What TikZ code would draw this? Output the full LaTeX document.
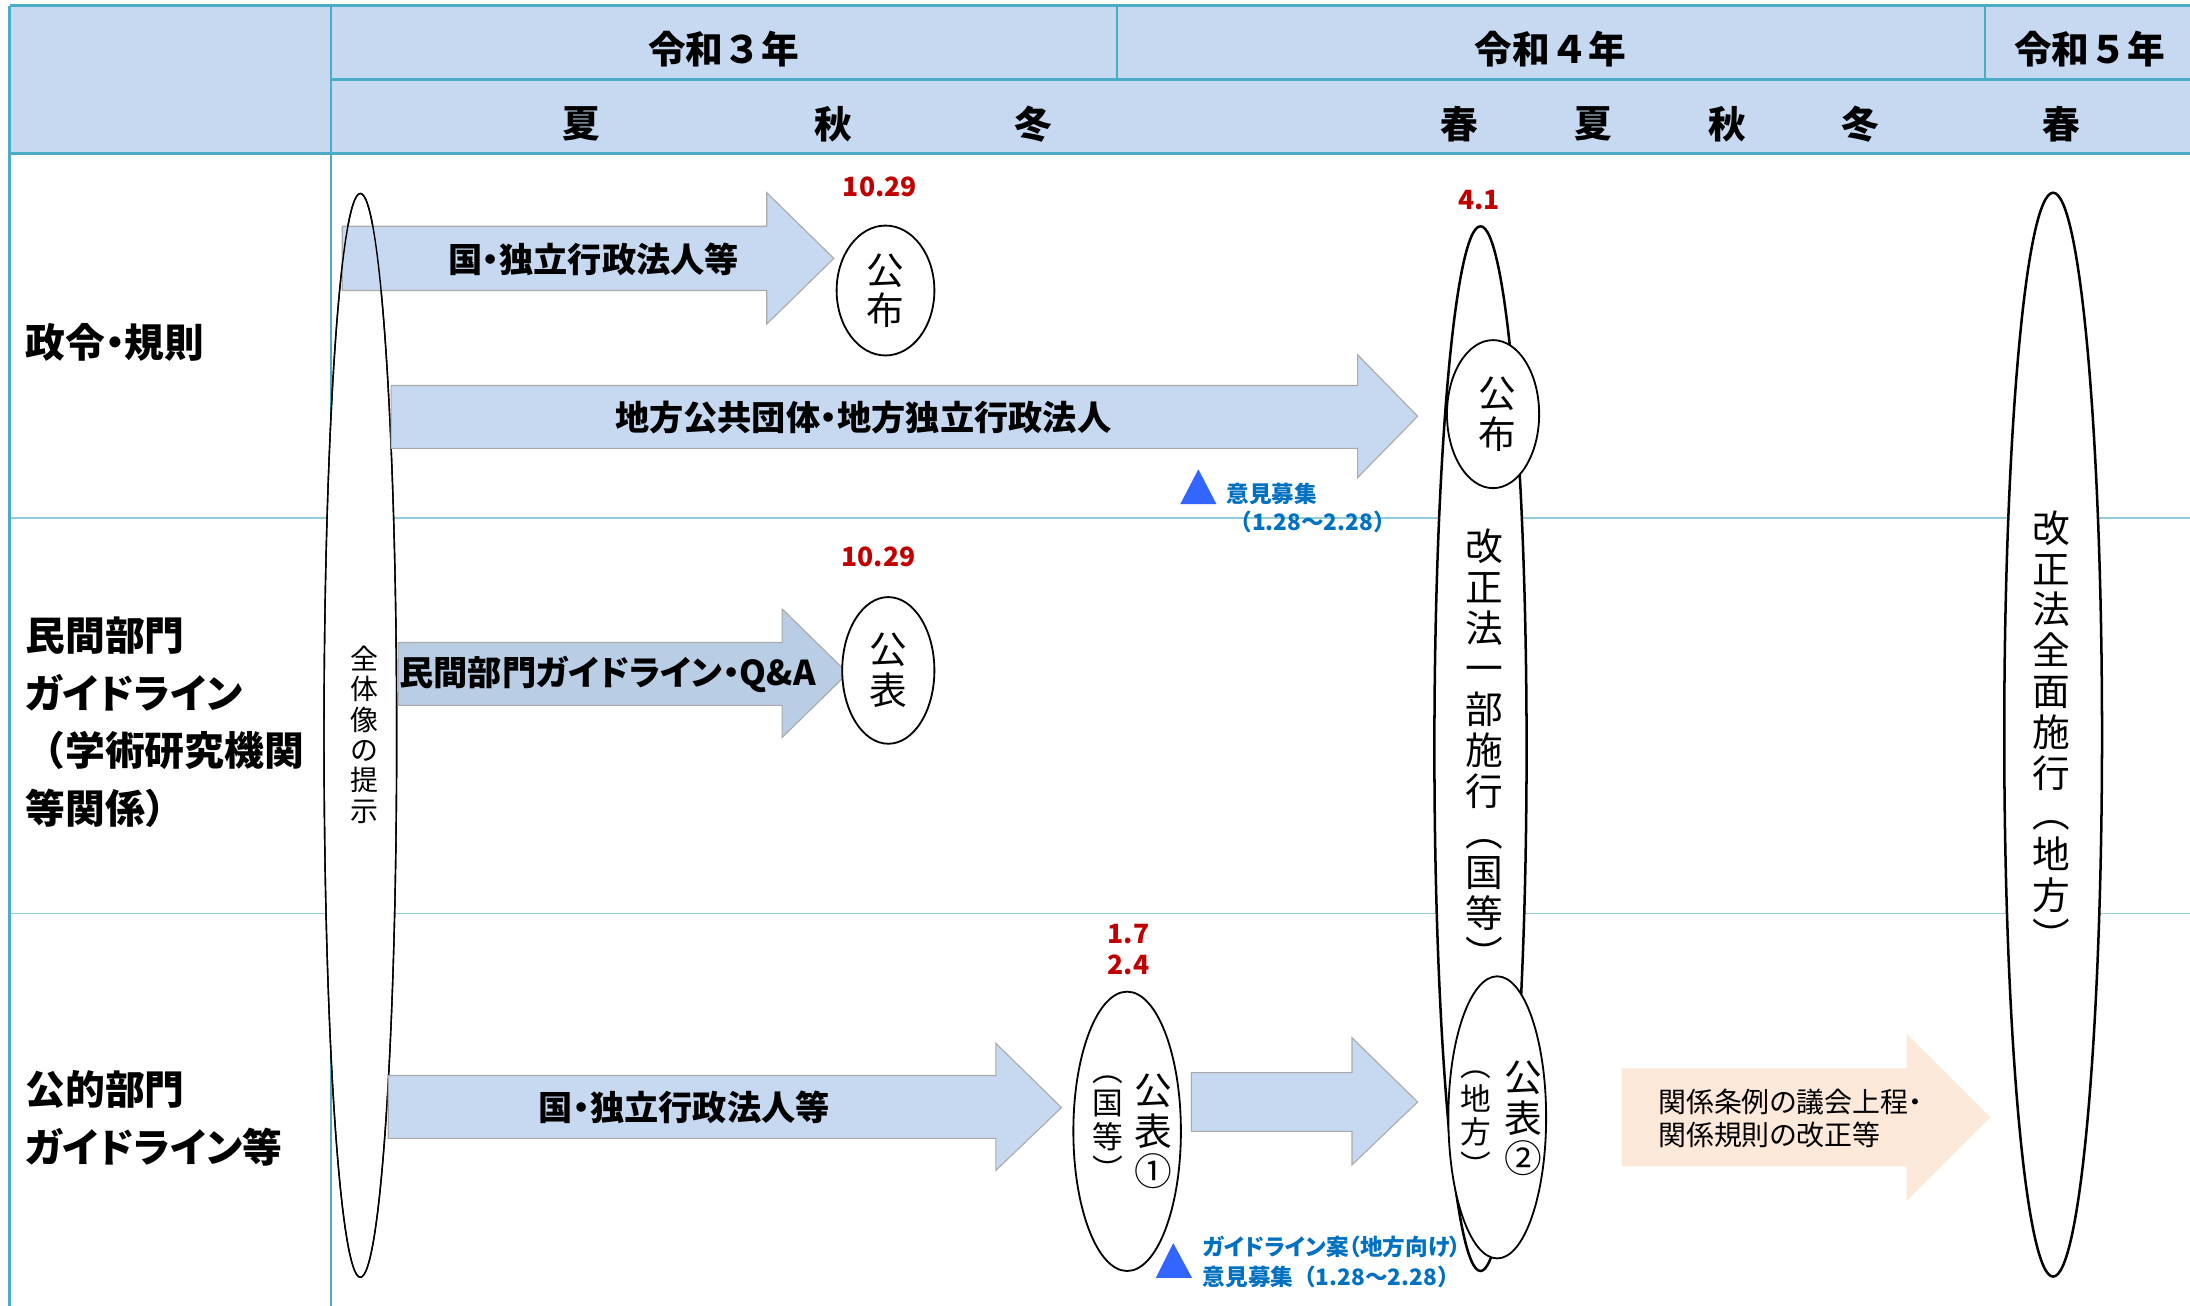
\documentclass[tikz,border=0pt]{standalone}
\usepackage{fontspec}
\setmainfont{Noto Sans CJK JP}
\newfontfamily\pfont{Noto Sans CJK JP}[RawFeature=+palt]
\usetikzlibrary{shapes.geometric}
\definecolor{hdr}{RGB}{198,217,240}
\definecolor{bcol}{RGB}{75,172,198}
\definecolor{lcol}{RGB}{146,205,222}
\definecolor{afill}{RGB}{198,217,241}
\definecolor{afilltwo}{RGB}{185,205,229}
\definecolor{adraw}{RGB}{170,170,170}
\definecolor{peach}{RGB}{253,233,217}
\definecolor{dred}{RGB}{192,0,0}
\definecolor{tblue}{RGB}{0,112,192}
\definecolor{triblue}{RGB}{51,102,255}
\begin{document}
\begin{tikzpicture}[x=1pt,y=-1pt,
  hdrtext/.style={font=\bfseries\fontsize{27}{30}\selectfont, inner sep=0pt},
  rowlabel/.style={font=\pfont\bfseries\fontsize{28.5}{41.3}\selectfont, align=left, anchor=west, inner sep=0pt},
  arrowshape/.style={fill=afill, draw=adraw, line width=0.8pt},
  arrowtext/.style={font=\pfont\bfseries\fontsize{24.5}{26}\selectfont, inner sep=0pt},
  ell/.style={ellipse, draw=black, fill=white, line width=1.3pt, inner sep=0pt},
  vt/.style={align=center, inner sep=0pt, font=\fontsize{27}{29}\selectfont},
  vts/.style={align=center, inner sep=0pt, font=\fontsize{22}{24}\selectfont},
  datelbl/.style={text=dred, font=\bfseries\fontsize{19}{22}\selectfont, inner sep=0pt},
  note/.style={text=tblue, font=\pfont\bfseries\fontsize{16.2}{20}\selectfont, inner sep=0pt, anchor=west},
  tri/.style={fill=triblue},
]
\useasboundingbox (0,0) rectangle (1568,935);
% header
\fill[hdr] (7,4) rectangle (1568,110);
\draw[lcol, line width=1.3pt] (7,371) -- (1568,371);
\draw[lcol, line width=1.3pt] (7,654) -- (1568,654);
\draw[bcol, line width=2pt] (7,4) -- (1568,4);
\draw[bcol, line width=1.6pt] (237,57) -- (1568,57);
\draw[bcol, line width=2pt] (7,110) -- (1568,110);
\draw[bcol, line width=2pt] (7,4) -- (7,935);
\draw[bcol, line width=1.6pt] (237,4) -- (237,935);
\draw[bcol, line width=1.6pt] (800,4) -- (800,57);
\draw[bcol, line width=1.6pt] (1421,4) -- (1421,57);

\node[hdrtext] (y3) at (518,35) {令和３年};
\node[hdrtext] (y4) at (1110,35) {令和４年};
\node[hdrtext] (y5) at (1496,35) {令和５年};
\node[hdrtext] (s1) at (416,89) {夏};
\node[hdrtext] (s2) at (597,89) {秋};
\node[hdrtext] (s3) at (740,89) {冬};
\node[hdrtext] (s4) at (1045,89) {春};
\node[hdrtext] (s5) at (1141,89) {夏};
\node[hdrtext] (s6) at (1237,89) {秋};
\node[hdrtext] (s7) at (1332,89) {冬};
\node[hdrtext] (s8) at (1476,89) {春};

% row labels
\node[rowlabel] (r1) at (18,245) {政令・規則};
\node[rowlabel] (r2) at (18,517) {民間部門\\ガイドライン\\{\rmfamily（}学術研究機関\\等関係{\rmfamily）}};
\node[rowlabel] (r3) at (18,800.5) {公的部門\\ガイドライン等};

% overall ellipse (fill)
\node[ell, line width=1pt, minimum width=52, minimum height=776] (whole) at (258,526.5) {};

% arrows
\path[arrowshape] (245,162) -- (549,162) -- (549,138) -- (597,185) -- (549,232) -- (549,208) -- (245,208) -- cycle;
\draw[line width=1pt] (whole.center) ellipse [x radius=26, y radius=388];
\node[arrowtext] (a1) at (425,186) {国・独立行政法人等};

\path[arrowshape] (280,276) -- (972,276) -- (972,254) -- (1015,298) -- (972,342) -- (972,321) -- (280,321) -- cycle;
\node[arrowtext] (a2) at (618,299) {地方公共団体・地方独立行政法人};

\path[arrowshape, fill=afilltwo] (285,460) -- (560,460) -- (560,436) -- (607,482) -- (560,528) -- (560,505) -- (285,505) -- cycle;
\node[arrowtext] (a3) at (435,483) {民間部門ガイドライン・Q\&A};

\path[arrowshape] (278,770) -- (713,770) -- (713,747) -- (760,793) -- (713,838) -- (713,815) -- (278,815) -- cycle;
\node[arrowtext] (a4) at (490,793) {国・独立行政法人等};

\path[arrowshape] (853,768) -- (968,768) -- (968,743) -- (1015,789) -- (968,834) -- (968,810) -- (853,810) -- cycle;

\path[fill=peach] (1161,765) -- (1365,765) -- (1365,740) -- (1425,800) -- (1365,860) -- (1365,835) -- (1161,835) -- cycle;
\node[inner sep=0pt, anchor=west, align=left, font=\pfont\fontsize{20}{23.5}\selectfont] (a5) at (1187,801) {関係条例の議会上程・\\関係規則の改正等};

% text of overall ellipse
\node[align=center, inner sep=0pt, font=\fontsize{20}{21.8}\selectfont] (wholet) at (261,526) {全\\体\\像\\の\\提\\示};

% row 1
\node[ell, minimum width=70, minimum height=93] (e1) at (634,208) {};
\node[vt] (e1t) at (e1.center) {公\\布};
\node[datelbl] (d1) at (630,134) {10.29};

% row 2
\node[ell, minimum width=66, minimum height=105] (e2) at (636,480) {};
\node[vt] (e2t) at (e2.center) {公\\表};
\node[datelbl] (d2) at (629,399) {10.29};

% row 3
\node[ell, minimum width=77, minimum height=200] (e3) at (807,810) {};
\node[vt] (e3a) at (826,810) {公\\表\\①};
\node[vts] (e3b) at (793,808) {︵\\国\\等\\︶};
\node[datelbl, align=center, font=\bfseries\fontsize{19}{22}\selectfont] (d3) at (808,680) {1.7\\2.4};

% tall middle ellipse
\node[ell, line width=1.8pt, minimum width=66, minimum height=748] (mid) at (1060,536) {};
\node[vt, font=\fontsize{27}{29.2}\selectfont] (midt) at (1063,536) {改\\正\\法\\一\\部\\施\\行\\︵\\国\\等\\︶};
\node[datelbl] (d4) at (1059,143) {4.1};
\node[ell, minimum width=66, minimum height=106] (e4) at (1069,296.5) {};
\node[vt] (e4t) at (1072,296.5) {公\\布};
\node[ell, minimum width=70, minimum height=202] (e5) at (1072,800) {};
\node[vt] (e5a) at (1091,801) {公\\表\\②};
\node[vts] (e5b) at (1057,805) {︵\\地\\方\\︶};

% right ellipse
\node[ell, line width=1.8pt, minimum width=70, minimum height=776] (full) at (1470,526) {};
\node[vt, font=\fontsize{27}{29.2}\selectfont] (fullt) at (1469,523) {改\\正\\法\\全\\面\\施\\行\\︵\\地\\方\\︶};

% notes
\path[tri] (858,336) -- (871,361) -- (845,361) -- cycle;
\node[note] (n1) at (878,354) {意見募集};
\node[note] (n2) at (880,374) {{\rmfamily（}1.28～2.28{\rmfamily）}};
\path[tri] (840,890) -- (853.5,915) -- (827.5,915) -- cycle;
\node[note] (n3) at (861,893) {ガイドライン案（地方向け）};
\node[note] (n4) at (861,914) {意見募集{\rmfamily（}1.28～2.28{\rmfamily）}};
\end{tikzpicture}
\end{document}
